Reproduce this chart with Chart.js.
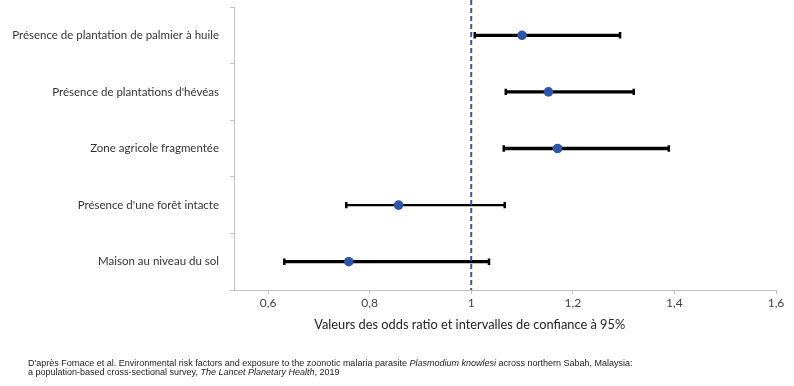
<!DOCTYPE html>
<html>
<head>
<meta charset="utf-8">
<script src="https://cdn.jsdelivr.net/npm/chart.js@4.4.1/dist/chart.umd.min.js"></script>
<style>
  html, body { margin:0; padding:0; background:#fff; }
  #wrap { position:relative; width:794px; height:386px; }
  #note { position:absolute; left:28px; top:359px; font-family:"Liberation Sans", Arial, sans-serif; font-size:9px; line-height:8.5px; color:#222; white-space:nowrap; }
</style>
</head>
<body>
<div id="wrap">
<canvas id="c" width="794" height="386"></canvas>
<div id="note">D'après Fornace et al. Environmental risk factors and exposure to the zoonotic malaria parasite <i>Plasmodium knowlesi</i> across northern Sabah, Malaysia:<br>a population-based cross-sectional survey, <i>The Lancet Planetary Health</i>, 2019</div>
</div>
<script>
const categories = [
  "Présence de plantation de palmier à huile",
  "Présence de plantations d'hévéas",
  "Zone agricole fragmentée",
  "Présence d'une forêt intacte",
  "Maison au niveau du sol"
];
const oddsRatio = [1.10, 1.152, 1.17, 0.857, 0.759];
const ciLow     = [1.007, 1.068, 1.064, 0.754, 0.632];
const ciHigh    = [1.293, 1.320, 1.389, 1.066, 1.035];
const thinRow   = [false, false, false, true, false];
const xTicks    = [0.6, 0.8, 1.0, 1.2, 1.4, 1.6];
const xMin = 0.533, xMax = 1.6;
const refValue = 1;
const xTitle = "Valeurs des odds ratio et intervalles de confiance à 95%";

const thickBars = categories.map((c, i) => thinRow[i] ? null : [ciLow[i], ciHigh[i]]);
const thinBars  = categories.map((c, i) => thinRow[i] ? [ciLow[i], ciHigh[i]] : null);

const refLine = {
  id: 'refLine',
  afterDatasetsDraw(chart) {
    const x = chart.scales.x.getPixelForValue(refValue);
    const a = chart.chartArea;
    const ctx = chart.ctx;
    ctx.save();
    ctx.strokeStyle = '#4b4ca3';
    ctx.lineWidth = 2;
    ctx.setLineDash([5, 3]);
    ctx.beginPath();
    ctx.moveTo(x, 0);
    ctx.lineTo(x, a.bottom);
    ctx.stroke();
    ctx.restore();
  },
  afterDraw(chart) {
    const ctx = chart.ctx;
    const x = chart.scales.x.getPixelForValue(0.997);
    ctx.save();
    ctx.font = '12.8px Lato, sans-serif';
    ctx.fillStyle = '#222';
    ctx.textAlign = 'center';
    ctx.textBaseline = 'middle';
    ctx.fillText(xTitle, x, 325);
    ctx.restore();
  }
};

new Chart(document.getElementById('c'), {
  type: 'bar',
  data: {
    labels: categories,
    datasets: [
      { type: 'line', label: 'OR', data: oddsRatio, indexAxis: 'y', showLine: false,
        pointRadius: 4.8, pointHoverRadius: 4.8, pointBackgroundColor: '#2f55a6', pointBorderWidth: 0, order: 0 },
      { type: 'line', label: 'low', data: ciLow, indexAxis: 'y', showLine: false,
        pointStyle: 'line', rotation: 90, pointRadius: 3.2, pointBorderColor: '#000', pointBorderWidth: 2.5, order: 1 },
      { type: 'line', label: 'high', data: ciHigh, indexAxis: 'y', showLine: false,
        pointStyle: 'line', rotation: 90, pointRadius: 3.2, pointBorderColor: '#000', pointBorderWidth: 2.5, order: 1 },
      { type: 'bar', label: 'ci', data: thickBars, backgroundColor: '#000', barThickness: 2.6, grouped: false, order: 2 },
      { type: 'bar', label: 'ci2', data: thinBars, backgroundColor: '#000', barThickness: 1.6, grouped: false, order: 2 }
    ]
  },
  options: {
    indexAxis: 'y',
    responsive: false,
    animation: false,
    events: [],
    layout: { padding: { top: 7, right: 18, left: 0, bottom: 0 } },
    plugins: { legend: { display: false }, tooltip: { enabled: false } },
    scales: {
      x: {
        type: 'linear', min: xMin, max: xMax,
        afterBuildTicks(scale) { scale.ticks = xTicks.map(v => ({ value: v })); },
        afterFit(scale) { scale.height = 96; },
        grid: { drawOnChartArea: false, drawTicks: true, tickLength: 4, color: '#bfbfbf' },
        border: { color: '#bfbfbf', width: 1 },
        ticks: { padding: 2, color: '#404040', font: { family: 'Lato, sans-serif', size: 12 },
          callback: v => String(Math.round(v * 10) / 10).replace('.', ',') }
      },
      y: {
        type: 'category',
        offset: true,
        afterFit(scale) { scale.width = 234; scale.paddingTop = 0; scale.paddingBottom = 0; },
        grid: { drawOnChartArea: false, drawTicks: true, tickLength: 4, offset: true, color: '#bfbfbf' },
        border: { color: '#bfbfbf', width: 1 },
        ticks: { padding: 11, color: '#333', font: { family: 'Lato, sans-serif', size: 11.5 } }
      }
    }
  },
  plugins: [refLine]
});
</script>
</body>
</html>
